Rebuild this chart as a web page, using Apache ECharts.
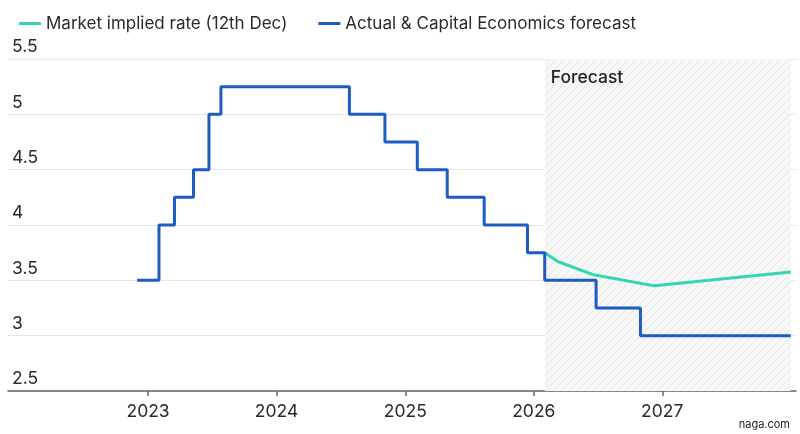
<!DOCTYPE html>
<html>
<head>
<meta charset="utf-8">
<script src="https://cdn.jsdelivr.net/npm/echarts@6/dist/echarts.min.js"></script>
<style>
  html, body { margin: 0; padding: 0; background: #fff; }
  #chart { width: 800px; height: 434px; }
</style>
</head>
<body>
<div id="chart"></div>
<script>
// Bank rate steps: date of change and new rate (last point only closes the line)
const actualDates = ['2022-12-01', '2023-02-01', '2023-03-17', '2023-05-10', '2023-06-23', '2023-07-27',
  '2024-07-26', '2024-11-04', '2025-02-04', '2025-04-30', '2025-08-13', '2025-12-14',
  '2026-02-01', '2026-06-27', '2026-10-31', '2028-01-01']
const actualRates = [3.5, 4.0, 4.25, 4.5, 5.0, 5.25, 5.0, 4.75, 4.5, 4.25, 4.0, 3.75, 3.5, 3.25, 3.0, 3.0]

// market implied path
const marketDates = ['2026-02-01', '2026-03-10', '2026-06-20', '2026-12-10', '2028-01-01']
const marketRates = [3.75, 3.67, 3.55, 3.45, 3.575]

const yearTicks = ['2023-01-01', '2024-01-01', '2025-01-01', '2026-01-01', '2027-01-01']
const forecastStart = '2026-02-01'
const forecastEnd = '2028-01-01'

const BLUE = '#1d5cc2'
const GREEN = '#33d6b1'
const FONT = 'Inter, "Noto Sans", sans-serif'
const FS = 17.5

// dates are plotted as ms timestamps on a value axis
const ts = s => new Date(s + 'T00:00:00Z').getTime()
const pairs = (d, v) => d.map((x, i) => [ts(x), v[i]])

// diagonal hatch for the forecast box
function hatch() {
  const c = document.createElement('canvas')
  c.width = 8
  c.height = 8
  const g = c.getContext('2d')
  g.fillStyle = '#f7f7f7'
  g.fillRect(0, 0, 8, 8)
  g.strokeStyle = '#e5e5e5'
  g.lineWidth = 1
  g.beginPath()
  g.moveTo(0, 8); g.lineTo(8, 0)
  g.moveTo(-1, 1); g.lineTo(1, -1)
  g.moveTo(7, 9); g.lineTo(9, 7)
  g.stroke()
  return c
}

const chart = echarts.init(document.getElementById('chart'))

chart.setOption({
  animation: false,
  textStyle: { fontFamily: FONT },
  legend: {
    data: ['Market implied rate (12th Dec)', 'Actual & Capital Economics forecast'],
    left: 14,
    top: 10,
    icon: 'rect',
    itemWidth: 22,
    itemHeight: 3,
    itemGap: 31,
    textStyle: { color: '#2a2a2a', fontSize: 17, fontFamily: FONT }
  },
  grid: { left: 8, right: 4, top: 59, bottom: 43 },
  xAxis: {
    type: 'value',
    min: ts('2021-11-29'),
    max: ts('2028-01-16'),
    axisLine: { lineStyle: { color: '#666', width: 1.5 } },
    axisTick: {
      show: true,
      length: 5,
      customValues: yearTicks.map(ts),
      lineStyle: { color: '#666', width: 1.5 }
    },
    axisLabel: {
      customValues: yearTicks.map(ts),
      formatter: v => String(new Date(v).getUTCFullYear()),
      color: '#2a2a2a',
      fontSize: FS,
      margin: 12,
      fontFamily: FONT
    },
    splitLine: { show: false }
  },
  yAxis: {
    type: 'value',
    min: 2.5,
    max: 5.5,
    interval: 0.5,
    axisLine: { show: false },
    axisTick: { show: false },
    axisLabel: {
      inside: true,
      verticalAlign: 'bottom',
      margin: 4,
      padding: [0, 0, 3, 0],
      color: '#2a2a2a',
      fontSize: FS,
      fontFamily: FONT
    },
    splitLine: { lineStyle: { color: '#e6e6e6', width: 1 } }
  },
  series: [
    {
      name: 'forecast-area',
      type: 'line',
      data: [],
      z: 1,
      markArea: {
        silent: true,
        itemStyle: { color: { image: hatch(), repeat: 'repeat' } },
        label: {
          show: true,
          position: 'insideTopLeft',
          distance: 6,
          offset: [0, 4],
          color: '#222',
          fontSize: FS,
          fontWeight: 500,
          fontFamily: FONT
        },
        data: [[{ name: 'Forecast', xAxis: ts(forecastStart) }, { xAxis: ts(forecastEnd) }]]
      }
    },
    {
      name: 'Market implied rate (12th Dec)',
      type: 'line',
      z: 3,
      data: pairs(marketDates, marketRates),
      showSymbol: false,
      lineStyle: { color: GREEN, width: 3 },
      itemStyle: { color: GREEN }
    },
    {
      name: 'Actual & Capital Economics forecast',
      type: 'line',
      z: 4,
      step: 'end',
      data: pairs(actualDates, actualRates),
      showSymbol: false,
      lineStyle: { color: BLUE, width: 3 },
      itemStyle: { color: BLUE }
    }
  ],
  graphic: [
    {
      type: 'text',
      right: 10,
      bottom: 4,
      style: { text: 'naga.com', fill: '#222', font: '11px ' + FONT }
    }
  ]
})

window.addEventListener('resize', () => chart.resize())
</script>
</body>
</html>
